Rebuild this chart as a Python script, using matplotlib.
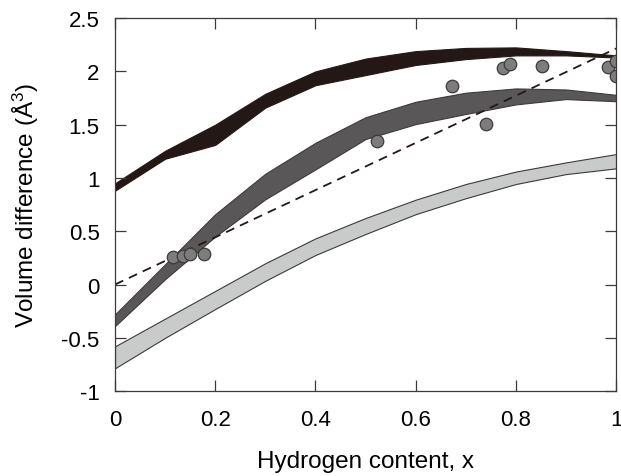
import numpy as np
import matplotlib
matplotlib.use('Agg')
import matplotlib.pyplot as plt

plt.rcParams['font.family'] = ['Liberation Sans', 'DejaVu Sans']
plt.rcParams['mathtext.fontset'] = 'custom'
plt.rcParams['mathtext.rm'] = 'Liberation Sans'
plt.rcParams['mathtext.it'] = 'Liberation Sans'
plt.rcParams['axes.unicode_minus'] = False

# composition grid of the calculated bands
x = [0.0, 0.1, 0.2, 0.3, 0.4, 0.5, 0.6, 0.7, 0.8, 0.9, 1.0]

# black band
black_hi = [0.95, 1.255, 1.50, 1.79, 2.00, 2.12, 2.19, 2.22, 2.225, 2.19, 2.15]
black_lo = [0.88, 1.18, 1.31, 1.66, 1.87, 1.965, 2.06, 2.115, 2.15, 2.15, 2.13]

# dark gray band
dark_hi = [-0.28, 0.19, 0.66, 1.04, 1.33, 1.57, 1.715, 1.80, 1.84, 1.83, 1.78]
dark_lo = [-0.39, 0.05, 0.45, 0.80, 1.08, 1.365, 1.505, 1.60, 1.69, 1.74, 1.72]

# light gray band
light_hi = [-0.58, -0.32, -0.06, 0.20, 0.433, 0.624, 0.796, 0.943, 1.06, 1.146, 1.224]
light_lo = [-0.786, -0.50, -0.23, 0.035, 0.277, 0.474, 0.66, 0.81, 0.943, 1.036, 1.09]

# experimental points
exp_x = [0.116, 0.136, 0.150, 0.178, 0.522, 0.672, 0.740, 0.775, 0.788, 0.853, 0.983, 1.0, 1.0]
exp_y = [0.255, 0.264, 0.283, 0.283, 1.349, 1.86, 1.51, 2.03, 2.07, 2.05, 2.04, 2.094, 1.96]

# linear guide
fit_x = [0.0, 1.0]
fit_y = [0.0, 2.215]

fig = plt.figure(figsize=(6.21, 4.77), dpi=100)
ax = fig.add_axes([0.1852, 0.178, 0.807, 0.782])

ax.fill_between(x, light_lo, light_hi, facecolor='#c9caca', edgecolor='#3e3a39', linewidth=0.8)
ax.fill_between(x, dark_lo, dark_hi, facecolor='#595757', edgecolor='#3e3a39', linewidth=0.8)
ax.fill_between(x, black_lo, black_hi, facecolor='#231815', edgecolor='#231815', linewidth=0.8)

ax.plot(fit_x, fit_y, color='#231815', linestyle=(0, (5, 3.5)), linewidth=1.3)

ax.plot(exp_x, exp_y, 'o', markersize=9, markerfacecolor='#7d7d7d',
        markeredgecolor='#3e3a39', markeredgewidth=0.9)

ax.set_xlim(0, 1)
ax.set_ylim(-1, 2.5)
ax.set_xticks([0, 0.2, 0.4, 0.6, 0.8, 1])
ax.set_xticklabels(['0', '0.2', '0.4', '0.6', '0.8', '1'])
ax.set_yticks([-1, -0.5, 0, 0.5, 1, 1.5, 2, 2.5])
ax.set_yticklabels(['-1', '-0.5', '0', '0.5', '1', '1.5', '2', '2.5'])

ax.tick_params(direction='in', length=8, width=0.9, color='#3e3a39',
               top=True, right=True, labelsize=16)
ax.tick_params(axis='x', pad=13)
ax.tick_params(axis='y', pad=11)
for s in ax.spines.values():
    s.set_color('#3e3a39')
    s.set_linewidth(0.9)

ax.set_xlabel('Hydrogen content, x', fontsize=17.5, labelpad=14)
ax.set_ylabel('Volume difference (Å$^{3}$)', fontsize=17.5, labelpad=15)

fig.savefig('out.png', dpi=100)
